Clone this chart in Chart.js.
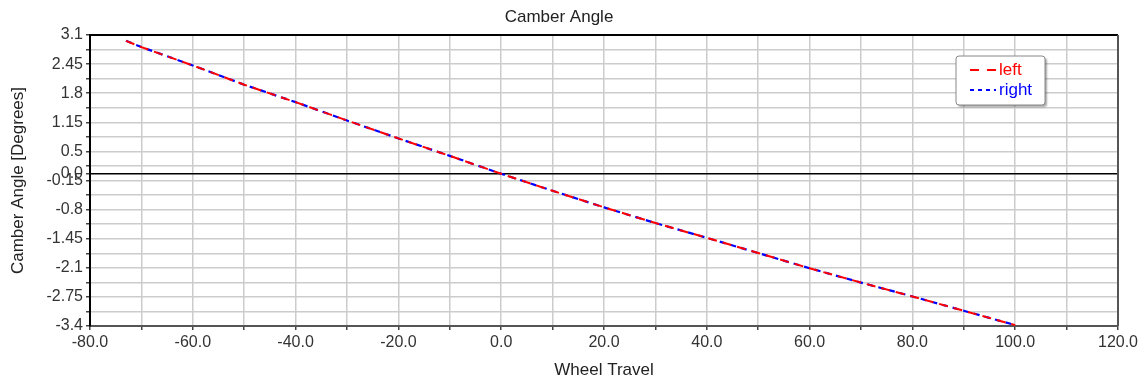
<!DOCTYPE html>
<html>
<head>
<meta charset="utf-8">
<title>Camber Angle</title>
<script src="https://cdn.jsdelivr.net/npm/chart.js@4.4.1/dist/chart.umd.min.js"></script>
<style>
  html, body { margin: 0; padding: 0; background: #fff; }
</style>
</head>
<body>
<canvas id="camberChart" width="1147" height="383"></canvas>
<script>
// wheel travel (mm) and camber (deg) for each side
const wheelTravel = [-73, -70, -60, -50, -40, -30, -20, -10, 0, 10, 20, 30, 40, 50, 60, 70, 80, 90, 100];
const camberLeft = [2.97, 2.83, 2.42, 1.99, 1.60, 1.19, 0.79, 0.40, 0.0, -0.38, -0.75, -1.10, -1.43, -1.77, -2.11, -2.43, -2.74, -3.06, -3.38];
const camberRight = [2.97, 2.83, 2.42, 1.99, 1.60, 1.19, 0.79, 0.40, 0.0, -0.38, -0.75, -1.10, -1.43, -1.77, -2.11, -2.43, -2.74, -3.06, -3.38];

// axis ticks
const xTicks = [-80, -70, -60, -50, -40, -30, -20, -10, 0, 10, 20, 30, 40, 50, 60, 70, 80, 90, 100, 110, 120];
const xLabels = [-80, -60, -40, -20, 0, 20, 40, 60, 80, 100, 120];
const yTicks = [3.1, 2.775, 2.45, 2.125, 1.8, 1.475, 1.15, 0.825, 0.5, 0.175, 0, -0.15, -0.475, -0.8, -1.125, -1.45, -1.775, -2.1, -2.425, -2.75, -3.075, -3.4];
const yLabels = [3.1, 2.45, 1.8, 1.15, 0.5, 0, -0.15, -0.8, -1.45, -2.1, -2.75, -3.4];

const FONT = "'Liberation Sans', Arial, sans-serif";

function toPoints(xs, ys) {
  return xs.map(function (x, i) { return { x: x, y: ys[i] }; });
}

function hasValue(list, v) {
  return list.some(function (l) { return Math.abs(l - v) < 1e-6; });
}

// top / right edge of the plot frame
const frame = {
  id: 'frame',
  afterDraw: function (chart) {
    const c = chart.ctx, a = chart.chartArea;
    c.save();
    c.lineWidth = 2;
    c.strokeStyle = '#000';
    c.beginPath();
    c.moveTo(a.left, a.top);
    c.lineTo(a.right, a.top);
    c.stroke();
    c.strokeStyle = '#555';
    c.beginPath();
    c.moveTo(a.right, a.top);
    c.lineTo(a.right, a.bottom);
    c.stroke();
    c.restore();
  }
};

// small boxed legend in the upper right corner
const legendBox = {
  id: 'legendBox',
  afterDraw: function (chart) {
    const c = chart.ctx, a = chart.chartArea;
    const x = a.right - 162, y = a.top + 21, w = 89, h = 49;
    c.save();
    c.shadowColor = 'rgba(0,0,0,0.35)';
    c.shadowOffsetX = 2;
    c.shadowOffsetY = 2;
    c.shadowBlur = 2;
    c.fillStyle = '#fff';
    c.beginPath();
    c.roundRect(x, y, w, h, 3);
    c.fill();
    c.shadowColor = 'transparent';
    c.strokeStyle = '#888';
    c.lineWidth = 1;
    c.stroke();

    chart.data.datasets.forEach(function (ds, i) {
      const ly = y + 14 + i * 20;
      c.strokeStyle = ds.borderColor;
      c.lineWidth = 2;
      c.setLineDash(ds.legendDash);
      c.beginPath();
      c.moveTo(x + 14, ly);
      c.lineTo(x + 40, ly);
      c.stroke();
      c.setLineDash([]);
      c.fillStyle = ds.borderColor;
      c.font = '17px ' + FONT;
      c.textBaseline = 'middle';
      c.textAlign = 'left';
      c.fillText(ds.label, x + 43, ly);
    });
    c.restore();
  }
};

var ctx = document.getElementById("camberChart").getContext("2d");

var camberChart = new Chart(ctx, {
  type: 'line',
  data: {
    datasets: [
      {
        label: 'left',
        data: toPoints(wheelTravel, camberLeft),
        borderColor: '#ff0000',
        borderWidth: 2,
        borderDash: [9, 6],
        legendDash: [9, 8],
        pointRadius: 0,
        fill: false,
        tension: 0
      },
      {
        label: 'right',
        data: toPoints(wheelTravel, camberRight),
        borderColor: '#0000ff',
        borderWidth: 2.2,
        borderDash: [6, 5],
        legendDash: [4, 4],
        pointRadius: 0,
        fill: false,
        tension: 0
      }
    ]
  },
  options: {
    responsive: false,
    animation: false,
    layout: { padding: { left: 0, right: 29, top: 0, bottom: 0 } },
    plugins: {
      legend: { display: false },
      tooltip: { enabled: false },
      title: {
        display: true,
        text: 'Camber Angle',
        color: '#222',
        font: { family: FONT, size: 17, weight: 'normal' },
        padding: { top: 7, bottom: 7.6 }
      }
    },
    scales: {
      x: {
        type: 'linear',
        min: -80,
        max: 120,
        afterBuildTicks: function (axis) {
          axis.ticks = xTicks.map(function (v) { return { value: v }; });
        },
        afterFit: function (axis) { axis.height = 57; },
        ticks: {
          autoSkip: false,
          maxRotation: 0,
          padding: 3,
          color: '#333',
          font: { family: FONT, size: 16 },
          callback: function (v) { return hasValue(xLabels, v) ? v.toFixed(1) : ''; }
        },
        grid: { color: '#cccccc', lineWidth: 1.5, tickLength: 4, tickColor: '#444', tickWidth: 1.5 },
        border: { color: '#555', width: 2 },
        title: {
          display: true,
          text: 'Wheel Travel',
          color: '#222',
          font: { family: FONT, size: 17 },
          padding: { top: 0, bottom: 2 }
        }
      },
      y: {
        type: 'linear',
        min: -3.4,
        max: 3.1,
        afterBuildTicks: function (axis) {
          axis.ticks = yTicks.map(function (v) { return { value: v }; });
        },
        afterFit: function (axis) { axis.width = 90; },
        ticks: {
          autoSkip: false,
          padding: 3,
          color: '#333',
          font: { family: FONT, size: 16 },
          callback: function (v) {
            if (!hasValue(yLabels, v)) return '';
            return v === 0 ? '0.0' : String(+v.toFixed(2));
          }
        },
        grid: {
          color: function (c) { return c.tick && c.tick.value === 0 ? '#000' : '#cccccc'; },
          lineWidth: 1.5,
          tickLength: 4,
          tickColor: '#444',
          tickWidth: 1.5
        },
        border: { color: '#000', width: 2 },
        title: {
          display: true,
          text: 'Camber Angle [Degrees]',
          color: '#222',
          font: { family: FONT, size: 17 },
          padding: { top: 8, bottom: 0 }
        }
      }
    }
  },
  plugins: [frame, legendBox]
});
</script>
</body>
</html>
